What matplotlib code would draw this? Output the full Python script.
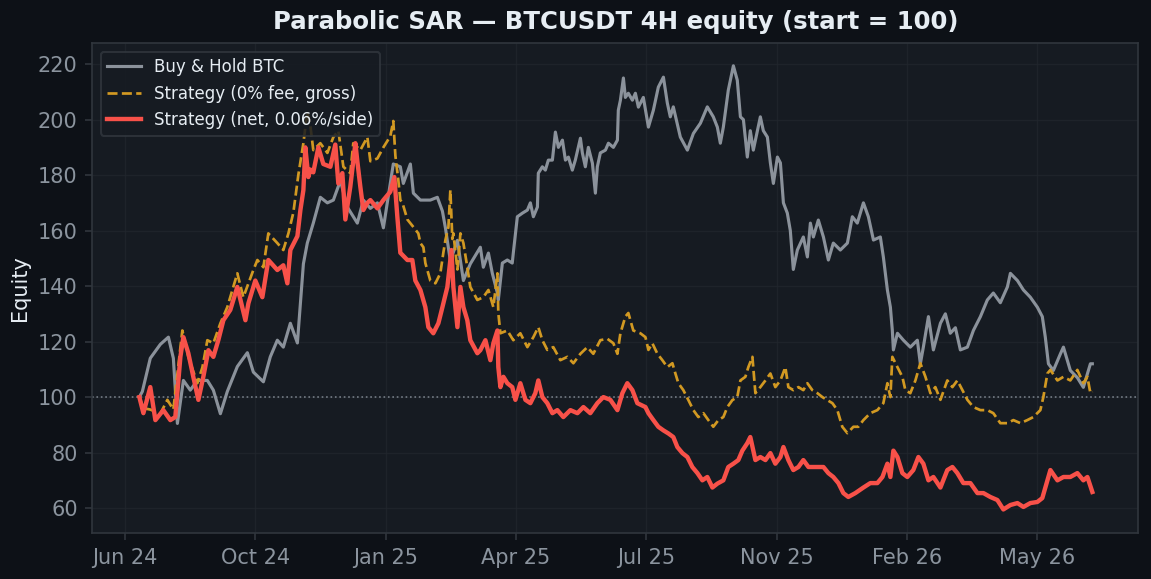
import numpy as np
import pandas as pd
import matplotlib
matplotlib.use("Agg")
import matplotlib.pyplot as plt
import matplotlib.dates as mdates
import matplotlib.ticker as mticker

# dados (dias desde o inicio, equity)
start = pd.Timestamp("2024-07-07")

bh_days = [0, 2.3, 8.4, 16.1, 22.3, 26.1, 29.2, 33.8, 39.1, 44.5, 52.2, 56.8, 62.2, 67.5, 75.2, 82.9,
           87.5, 95.2, 100.5, 105.9, 110.5, 115.9, 121.3, 123.6, 125.9, 128.9, 133.5, 138.9, 144.3,
           148.9, 154.3, 159.6, 167.3, 171.9, 177.3, 182.7, 187.3, 194.9, 200.3, 202.6, 208, 210.3,
           215.7, 223.3, 228.7, 232.6, 234.9, 238.7, 244.1, 248.7, 254,
           261.7, 264, 267.9, 270.9, 274.8, 275.5, 278.6, 282.4, 286.2, 287, 290.1, 294, 297.8, 300.1,
           302.4, 305.5, 306.2, 309.3, 311.6, 313.9, 317, 319.3, 321.6, 324.7, 327, 329.3, 332.3,
           334.6, 338.5, 340, 342.3, 344.6, 347.7, 350, 351.5, 353.8, 357.7, 360, 363.8, 366.9,
           367.6, 369.2, 371.5, 373, 375.3, 378.4, 380.7, 383, 386.8, 390.7, 394.5, 398.3,
           402.2, 405.2, 407.5, 409.8, 415.2, 420.6, 425.2, 430.6, 435.9, 440.5,
           443.6, 445.9, 448.2, 452, 455.9, 458.9, 461.3, 463.6, 466.6, 468.9, 471.2, 476.6, 478.9,
           482, 484.3, 486.6, 489.7, 492, 494.3, 497.3, 499.6, 501.9, 505, 509.6, 512.7, 515, 517.3,
           521.1, 525, 528.8, 532.6, 538, 543.4, 547.2, 551, 555.7, 559.5, 563.4, 568.7, 571, 574.1,
           576.4, 577.9, 578.7, 581.8, 586.4, 591.7, 597.1, 599.4, 601.7, 605.6, 609.4, 614.8, 618.6,
           622.4, 626.3, 630.1, 635.5, 640.1, 645.5, 650.8, 655.4, 660.8, 666.2, 668.5, 673.9, 678.5,
           683.8, 689.2, 693, 695.3, 697.7, 701.5, 706.9, 709.2, 714.5, 719.9, 724.5, 729.9, 731.4]
bh_vals = [100, 102, 114, 119, 121.6, 114, 90.5, 106, 102.5, 106, 106, 102.5, 94, 102, 111, 116,
           109, 105.5, 114.5, 120.5, 118, 126.6, 119.5, 134, 148, 155.5, 162.7, 172, 170,
           171, 178, 168.5, 162.7, 171, 168, 170, 161, 184, 183, 177, 184, 173.5,
           171, 171, 172, 167, 161, 149, 156.5, 142, 148,
           154, 146.8, 151.9, 144.6, 137.5, 135, 148.3, 149.4, 148.3, 151.9, 165, 166.3, 167.4, 170,
           165, 168.5, 180.7, 183, 181.8, 185.4, 185.4, 195.5, 190, 192.6, 185.4, 186.5, 181.8,
           185.4, 193.3, 188, 183, 190, 184.3, 173.5, 183, 188, 189, 191.5, 190, 192.6,
           203.4, 207, 215, 208, 209.5, 207, 209.5, 204.5, 208, 197.3, 203.4, 211.7,
           215.3, 206, 201, 204.6, 193.7, 189, 195, 198.7, 204.6, 201,
           197.3, 191.5, 197.3, 210.6, 219.4, 214.2, 201, 200, 186.5, 196, 189, 201, 196,
           193.7, 184.4, 177, 186.5, 184.4, 170, 166.3, 160, 146, 153, 157.7, 150.5, 162.7, 157.7,
           163.8, 157.7, 149.4, 155.5, 153, 155.5, 165, 162.7, 170, 165, 156.6, 157.7, 150.5, 138.6,
           132.4, 124, 117, 123, 120.5, 118, 120.5, 112, 118, 129, 117, 126.6, 130,
           123, 125, 117, 118, 124, 129, 135, 137.5, 134, 139.7, 144.6, 142, 138.6,
           136, 132.4, 129, 121.6, 112, 109.6, 115.6, 118, 109.6, 107, 103.5, 112, 112]

gross_days = [0, 3.1, 8.4, 16.1, 21.5, 26.1, 33, 37.6, 44.5, 48.4, 52.2, 56.8, 62.2, 67.5, 75.2, 79.8,
              87.5, 90.6, 95.2, 99, 105.9, 110.5, 114.4, 118.2, 122, 125.9, 128.9, 131.2, 133.5, 138.9,
              144.3, 148.9, 152.7, 156.6, 161.9, 164.2, 169.6, 175, 177.3, 182.7, 187.3, 192.6, 194.9,
              196.5, 198.8, 200.3, 201.9, 205.7, 210.3, 214.1, 215.7, 218, 219.5, 223.3, 227.2, 231,
              233.3, 234.9, 237.2, 238.7, 240.2, 241, 244.1, 246.4, 248.7, 251.7, 254, 259.4, 264,
              267.9, 271.7, 274.8, 275.5, 277.1, 282.4, 287, 292.4, 297.8, 302.4, 306.2, 309.3, 313.1,
              317.7, 323.1, 328.5, 333.1, 338.5, 343.8, 348.4, 353.8, 359.2, 363.8, 366.9, 369.2, 373,
              375.3, 379.1,
              384.5, 388.4, 390.7, 393.7, 397.6, 401.4, 405.2, 409.1, 411.4, 413.7, 417.5, 421.4,
              425.2, 429, 432.9, 436.7, 440.5, 444.4, 448.2, 451.3, 455.1, 458.9, 461.3, 465.1,
              467.4, 470.5, 472.8, 476.6, 480.5, 484.3, 488.1, 492, 495.8, 498.1, 501.9, 505.8,
              509.6, 512.7, 516.5, 520.4, 524.2, 528, 531.9, 535.7, 539.5, 543.4, 548, 551.8, 555.7,
              561, 566.4, 571, 574.1, 576.4, 577.9, 581.8, 585.6, 587.9, 591.7, 595.6, 599.4, 603.3,
              607.1, 610.9, 614.8, 620.1, 624, 627.8, 631.7, 635.5, 640.1, 645.5, 650.8, 655.4, 660.8,
              666.2, 670.8, 676.2, 681.5, 686.1, 691.5, 693.8, 696.9, 699.2, 704.6, 709.2, 714.5, 719.9,
              724.5, 727.6, 729.9, 731.4]
gross_vals = [100, 96, 95.5, 94, 99, 95.5, 124, 114.5, 105, 110.7, 120.5, 119.4, 126.6, 132.4, 144.6, 136,
              145.8, 149.4, 146.8, 159, 155.5, 153, 159, 166.5, 180, 191.5, 203, 198, 189, 191.5,
              188, 193.7, 196, 183, 180.7, 191.5, 189, 193.7, 185, 186, 190, 194, 199.5,
              187, 178, 171, 170, 164, 161.3, 159, 155.5, 154, 148.3, 142, 141, 144.6,
              152, 156.6, 161.3, 174.6, 157, 159, 146, 159, 155.5, 146.8, 139.7, 135, 136,
              138.6, 132.4, 144.6, 130.3, 123, 124, 120.5, 123, 118, 121.6, 125.2, 120.5, 117,
              118, 113.3, 114.5, 112.2, 115.6, 118, 115.6, 120.5, 121, 119.4, 115.6, 123, 129,
              130.3, 124,
              123, 121.6, 117, 119.4, 115.6, 113.3, 110.8, 112.2, 108.5, 105, 102.5, 98.9,
              95.3, 92.8, 94.2, 91.7, 89.3, 91.7, 92.8, 96.4, 98.9, 100, 106, 107.3,
              110.8, 114.5, 101.4, 103.6, 106, 108.5, 103.6, 106, 110.8, 103.6, 102.5, 103.6,
              102.5, 105, 102.5, 101.4, 100, 98.9, 97.8, 95.3, 89.3, 87, 89.3, 89.3, 91.7,
              94.2, 95.3, 97.8, 105, 100, 114.5, 110.8, 107.3, 102.5, 101.4, 106, 112.2, 107.3,
              101.4, 103.6, 99, 106, 103.6, 106, 102.5, 99, 96.4, 95.3, 95.3, 94.2, 90.6,
              90.6, 91.7, 90.6, 91.7, 92.8, 95.3, 100, 108.5, 109.8, 106, 107.3, 106, 109.8,
              105, 107.3, 101.4, 102]

net_days = [0, 3.1, 8.4, 12.3, 18.4, 23.8, 27.6, 31.5, 33.8, 37.6, 41.4, 45.3, 49.1, 53, 56.8, 60.6,
            64.5, 69.8, 75.2, 81.4, 83.7, 89, 94.4, 99, 105.9, 110.5, 113.6, 115.9, 121.3, 123.6,
            125.9, 127.4, 129.7, 131.2, 133.5, 137.4, 141.2, 146.6, 150.4, 152.7, 155.8, 158.1, 161.9,
            165.8, 167.3, 169.6, 171.9, 175, 177.3, 182.7, 187.3, 192.6, 195.7, 198, 200.3, 205.7,
            209.5, 211.8, 215.7, 219.5, 221.8, 225.6, 229.5, 232.6, 236.4, 239.5, 241, 244.1, 246.4,
            248.7, 251.7, 254, 259.4,
            261.7, 265.6, 269.4, 271.7, 274.8, 275.5, 277.1, 279.4, 282.4, 286.2, 288.6, 292.4,
            296.3, 300.1, 303.9, 306.2, 309.3, 313.1, 317, 320.8, 325.4, 330.8, 336.2, 340.8,
            346.1, 351.5, 356.1, 361.5, 366.9, 370.7, 374.5, 378.4, 382.2,
            388.4, 390.7, 394.5, 398.3, 402.2, 406, 409.8, 412.9, 416.8, 420.6, 424.4, 428.3,
            432.1, 435.9, 439.8, 443.6, 448.2, 452, 455.9, 459.7, 462.8, 466.6, 468.9, 472.8,
            476.6, 480.5, 484.3, 488.1, 492, 494.3, 498.1, 501.9, 505.8, 509.6, 513.5, 517.3,
            521.1, 525, 528.8, 532.6, 536.5, 540.3, 544.1, 549.5,
            555.7, 561, 566.4, 570.3, 574.1, 576.4, 578.7, 581.8, 585.6, 589.4, 594,
            597.9, 601.7, 605.6, 609.4, 614.8, 620.1, 624, 627.8, 632.4, 637.8, 643.2, 647.8, 653.1,
            658.5, 663.1, 668.5, 673.9, 678.5, 683.8, 689.2, 693, 696.9, 699.2, 704.6, 709.2, 714.5,
            719.9, 724.5, 727.6, 731.4]
net_vals = [100, 94.2, 103.6, 91.7, 95.3, 91.7, 92.8, 114.5, 121.6, 115.8, 107.3, 99, 107.3, 116.9, 114.5, 120.5,
            127.7, 131.4, 139.7, 127.7, 133.8, 142, 136, 149.4, 145.8, 147.5, 141, 153, 158, 167.4,
            174.6, 190, 179.3, 182, 181, 190, 184, 183, 191, 177, 180.7, 164, 175.8,
            191.5, 185, 175.8, 167.4, 170, 171, 168, 171, 174, 179.3, 165, 152, 149.4,
            149.4, 142, 138.6, 132.4, 125.2, 123, 126.6, 132.4, 139.7, 153, 139.7, 125.2, 139.7,
            132.4, 127.7, 120.5, 115.8,
            116.9, 120.5, 113.3, 119.4, 124, 110.8, 103.6, 107.3, 105, 103.6, 99, 105,
            99, 97.8, 101.4, 106, 100, 97.8, 94.2, 95.3, 92.8, 95.3, 94.2, 96.4,
            94.2, 97.8, 100, 99, 95.3, 101.4, 105, 102.5, 97.8,
            96.4, 94.2, 91.7, 89.3, 88, 86.9, 85.6, 82, 79.8, 78.4, 74.8, 72.6,
            70, 71.2, 67.4, 68.8, 70, 74.8, 76, 77.3, 80.7, 83.4, 85.6, 77.3,
            78.4, 77.3, 79.8, 76, 78.4, 82, 77.3, 73.7, 74.8, 77.3, 74.8, 74.8,
            74.8, 74.8, 72.6, 71.2, 69, 65.4, 64, 65.4,
            67.4, 69, 69, 71.2, 76, 71.2, 80.7, 78.4, 72.6, 71.2, 73.7,
            78.4, 76, 70, 71.2, 67.4, 73.7, 74.8, 72.6, 69, 69, 65.4, 65.4, 64,
            62.9, 59.5, 61.1, 61.8, 60.4, 61.8, 62.2, 63.6, 70, 73.7, 70, 71.2, 71.2,
            72.6, 70, 71.2, 65.8]

y_ticks = [60, 80, 100, 120, 140, 160, 180, 200, 220]

bg_fig = "#0d1117"
bg_ax = "#161b22"
edge = "#30363d"
txt = "#8b949e"


def to_dates(days):
    return start + pd.to_timedelta(np.array(days), unit="D")


fig = plt.figure(figsize=(1151 / 150, 579 / 150), dpi=150, facecolor=bg_fig)
ax = fig.add_axes([0.0802, 0.0789, 0.9088, 0.8463], facecolor=bg_ax)

ax.axhline(100, color=txt, lw=0.8, ls=":", alpha=0.8, zorder=1)
ax.plot(to_dates(bh_days), bh_vals, color="#8b929b", lw=1.5, label="Buy & Hold BTC", zorder=2)
ax.plot(to_dates(gross_days), gross_vals, color="#d29922", lw=1.3, ls="--",
        label="Strategy (0% fee, gross)", zorder=3)
ax.plot(to_dates(net_days), net_vals, color="#f85149", lw=2.1,
        label="Strategy (net, 0.06%/side)", zorder=4)

ax.set_xlim(19874.9, 20677.7)
ax.set_ylim(50.9, 227.5)
ax.xaxis.set_major_locator(mticker.MultipleLocator(100))
ax.xaxis.set_major_formatter(mdates.DateFormatter("%b %y"))
ax.set_yticks(y_ticks)

ax.grid(True, color="#21262d", lw=0.6, alpha=0.8)
ax.set_axisbelow(True)
for s in ax.spines.values():
    s.set_color(edge)
    s.set_linewidth(0.8)
ax.tick_params(colors=txt, labelsize=10, length=3.5, width=0.8)
ax.tick_params(axis="both", color=edge)

ax.set_ylabel("Equity", color="#e6edf3", fontsize=10)
ax.set_title("Parabolic SAR — BTCUSDT 4H equity (start = 100)", color="#e6edf3",
             fontsize=11.7, fontweight="bold", pad=7)

leg = ax.legend(loc="upper left", fontsize=8, facecolor=bg_ax, edgecolor=edge,
                labelcolor="#e6edf3", framealpha=0.85)

fig.savefig("out.png", dpi=150, facecolor=bg_fig)
